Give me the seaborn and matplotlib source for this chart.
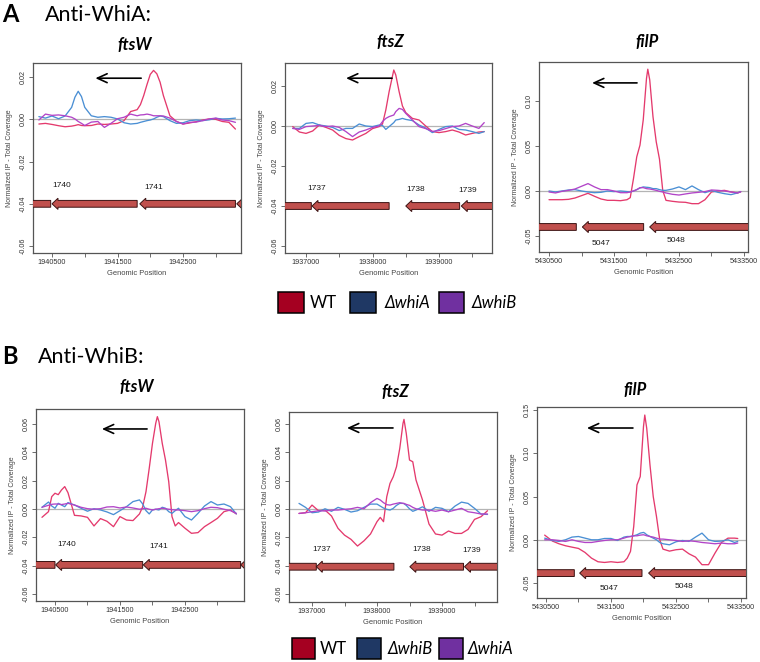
import numpy as np
import pandas as pd
import matplotlib
matplotlib.use("Agg")
import matplotlib.pyplot as plt
from matplotlib.patches import Polygon, Rectangle
import seaborn as sns

# ChIP-seq style coverage traces (Normalized IP - Total Coverage)

# ---------------- Anti-WhiA row ----------------
strains_a = ["WT", "ΔwhiA", "ΔwhiB"]

ftsw_a_pos = [1940300, 1940400, 1940500, 1940600, 1940700, 1940800, 1940850, 1940900, 1940950,
              1941000, 1941100, 1941200, 1941300, 1941400, 1941500, 1941600, 1941700, 1941800,
              1941850, 1941900, 1941950, 1942000, 1942050, 1942100, 1942150, 1942200, 1942300,
              1942400, 1942500, 1942600, 1942700, 1942800, 1942900, 1943000, 1943100, 1943200, 1943300]
ftsw_a_wt = [-0.0022, -0.0019, -0.0024, -0.0030, -0.0035, -0.0032, -0.0029, -0.0025, -0.0029, -0.0030,
             -0.0029, -0.0022, -0.0024, -0.0022, -0.0019, -0.0006, 0.0037, 0.0046, 0.0070, 0.0113,
             0.0165, 0.0213, 0.0232, 0.0216, 0.0176, 0.0113, 0.0017, -0.0010, -0.0022, -0.0017,
             -0.0011, -0.0003, 0.0002, 0.0000, -0.0010, -0.0014, -0.0046]
ftsw_a_whiA = [0.0013, 0.0006, 0.0016, 0.0003, 0.0016, 0.0057, 0.0105, 0.0133, 0.0108, 0.0057,
               0.0017, 0.0010, 0.0013, 0.0010, 0.0002, -0.0016, -0.0022, -0.0019, -0.0014, -0.0010,
               -0.0006, -0.0003, 0.0002, 0.0010, 0.0016, 0.0013, -0.0006, -0.0019, -0.0016, -0.0006,
               -0.0003, -0.0006, -0.0002, 0.0005, 0.0002, 0.0003, 0.0006]
ftsw_a_whiB = [-0.0003, 0.0025, 0.0019, 0.0021, 0.0017, 0.0010, 0.0002, -0.0010, -0.0019, -0.0029,
               -0.0013, -0.0010, -0.0038, -0.0019, 0.0003, 0.0010, 0.0025, 0.0017, 0.0021, 0.0022,
               0.0025, 0.0022, 0.0017, 0.0017, 0.0017, 0.0016, 0.0006, -0.0010, -0.0022, -0.0014,
               -0.0013, -0.0006, 0.0002, 0.0006, -0.0003, -0.0006, -0.0014]

ftsz_a_pos = [1936800, 1936900, 1937000, 1937100, 1937200, 1937300, 1937400, 1937500, 1937600,
              1937700, 1937800, 1937900, 1938000, 1938100, 1938150, 1938200, 1938250, 1938320,
              1938350, 1938400, 1938450, 1938500, 1938600, 1938700, 1938800, 1938900, 1939000,
              1939100, 1939200, 1939300, 1939400, 1939500, 1939600, 1939680]
ftsz_a_wt = [-0.0003, -0.0030, -0.0037, -0.0025, 0.0005, -0.0007, -0.0020, -0.0047, -0.0063, -0.0070,
             -0.0053, -0.0037, -0.0013, -0.0003, 0.0010, 0.0080, 0.0172, 0.0280, 0.0255, 0.0172,
             0.0100, 0.0067, 0.0038, 0.0030, 0.0000, -0.0028, -0.0033, -0.0028, -0.0020, -0.0030,
             -0.0045, -0.0037, -0.0030, -0.0028]
ftsz_a_whiA = [-0.0012, -0.0012, 0.0013, 0.0017, 0.0005, 0.0000, -0.0007, -0.0023, -0.0012, -0.0012,
               0.0010, 0.0000, -0.0003, 0.0005, 0.0003, -0.0017, -0.0003, 0.0017, 0.0030, 0.0033,
               0.0038, 0.0033, 0.0027, 0.0005, -0.0010, -0.0033, -0.0017, -0.0003, 0.0000, -0.0017,
               -0.0020, -0.0028, -0.0037, -0.0028]
ftsz_a_whiB = [-0.0012, -0.0017, -0.0003, 0.0000, 0.0003, -0.0003, 0.0000, -0.0007, -0.0028, -0.0053,
               -0.0030, -0.0020, -0.0007, 0.0000, 0.0022, 0.0038, 0.0047, 0.0055, 0.0072, 0.0088,
               0.0083, 0.0063, 0.0030, -0.0003, -0.0013, -0.0027, -0.0023, -0.0013, -0.0003, 0.0000,
               0.0013, 0.0000, -0.0012, 0.0017]

filp_a_pos = [5430500, 5430600, 5430700, 5430800, 5430900, 5431000, 5431100, 5431200, 5431300,
              5431400, 5431500, 5431600, 5431700, 5431750, 5431800, 5431850, 5431900, 5431950,
              5432000, 5432020, 5432050, 5432100, 5432150, 5432200, 5432250, 5432300, 5432400,
              5432500, 5432600, 5432700, 5432800, 5432900, 5433000, 5433100, 5433200, 5433300,
              5433400, 5433450]
filp_a_wt = [-0.0097, -0.0097, -0.0097, -0.0093, -0.0078, -0.0052, -0.0026, -0.0059, -0.0089, -0.0104,
             -0.0104, -0.0108, -0.0097, -0.0074, 0.0138, 0.0379, 0.0510, 0.0790, 0.1250, 0.1353,
             0.1234, 0.0825, 0.0546, 0.0353, 0.0007, -0.0104, -0.0115, -0.0123, -0.0126, -0.0141,
             -0.0141, -0.0097, -0.0011, 0.0000, 0.0007, -0.0011, -0.0022, -0.0011]
filp_a_whiA = [0.0000, -0.0011, 0.0000, 0.0011, 0.0015, 0.0000, -0.0011, -0.0019, -0.0015, 0.0000,
               -0.0007, 0.0000, -0.0007, -0.0011, 0.0000, 0.0015, 0.0033, 0.0045, 0.0041, 0.0040,
               0.0037, 0.0026, 0.0026, 0.0015, 0.0007, 0.0007, 0.0022, 0.0045, 0.0015, 0.0056,
               0.0015, -0.0019, 0.0004, -0.0015, -0.0030, -0.0041, -0.0022, -0.0007]
filp_a_whiB = [-0.0011, -0.0022, -0.0004, 0.0007, 0.0022, 0.0052, 0.0082, 0.0045, 0.0015, 0.0015,
               0.0000, -0.0019, -0.0019, -0.0011, 0.0000, 0.0015, 0.0037, 0.0037, 0.0026, 0.0024,
               0.0022, 0.0015, 0.0007, -0.0004, -0.0011, -0.0022, -0.0037, -0.0045, -0.0033, -0.0022,
               -0.0015, -0.0007, 0.0011, 0.0007, 0.0000, -0.0011, -0.0022, -0.0007]

# ---------------- Anti-WhiB row ----------------
strains_b = ["WT", "ΔwhiB", "ΔwhiA"]

ftsw_b_pos = [1940300, 1940400, 1940450, 1940500, 1940550, 1940600, 1940650, 1940700, 1940800,
              1940900, 1941000, 1941100, 1941200, 1941300, 1941400, 1941500, 1941600, 1941700,
              1941800, 1941850, 1941900, 1941950, 1942000, 1942050, 1942075, 1942100, 1942150,
              1942200, 1942250, 1942300, 1942350, 1942400, 1942500, 1942600, 1942700, 1942800,
              1942900, 1943000, 1943100, 1943200, 1943290]
ftsw_b_wt = [-0.0059, -0.0019, 0.0087, 0.0111, 0.0101, 0.0134, 0.0158, 0.0115, -0.0045, -0.0049,
             -0.0059, -0.0120, -0.0068, -0.0087, -0.0125, -0.0054, -0.0078, -0.0082, -0.0035, 0.0016,
             0.0122, 0.0287, 0.0464, 0.0605, 0.0652, 0.0616, 0.0464, 0.0346, 0.0193, -0.0054,
             -0.0120, -0.0096, -0.0136, -0.0172, -0.0167, -0.0125, -0.0096, -0.0066, -0.0019, -0.0007,
             -0.0035]
ftsw_b_whiB = [0.0012, 0.0049, 0.0021, 0.0005, 0.0040, 0.0028, 0.0016, 0.0045, 0.0028, 0.0005,
               -0.0016, 0.0002, -0.0007, -0.0021, -0.0040, -0.0012, 0.0016, 0.0052, 0.0064, 0.0035,
               -0.0012, -0.0035, -0.0007, -0.0002, -0.0005, -0.0007, 0.0012, 0.0005, -0.0019, -0.0031,
               -0.0012, 0.0005, -0.0054, -0.0078, -0.0031, 0.0021, 0.0052, 0.0028, 0.0035, 0.0016,
               -0.0035]
ftsw_b_whiA = [0.0012, 0.0026, 0.0033, 0.0035, 0.0035, 0.0031, 0.0035, 0.0040, 0.0028, 0.0012,
               0.0002, -0.0002, 0.0002, 0.0014, 0.0016, 0.0007, 0.0014, 0.0007, -0.0002, 0.0002,
               0.0005, -0.0002, -0.0007, -0.0002, 0.0000, 0.0002, 0.0005, 0.0002, -0.0002, -0.0005,
               -0.0007, -0.0007, -0.0012, -0.0019, -0.0012, 0.0002, 0.0012, 0.0009, -0.0002, -0.0012,
               -0.0031]

ftsz_b_pos = [1936800, 1936900, 1937000, 1937100, 1937200, 1937300, 1937400, 1937500, 1937600,
              1937700, 1937800, 1937900, 1938000, 1938050, 1938100, 1938150, 1938200, 1938250,
              1938300, 1938350, 1938400, 1938415, 1938450, 1938500, 1938550, 1938600, 1938700,
              1938800, 1938900, 1939000, 1939100, 1939200, 1939300, 1939400, 1939500, 1939600, 1939700]
ftsz_b_wt = [-0.0031, -0.0026, 0.0028, -0.0012, -0.0007, -0.0049, -0.0136, -0.0184, -0.0214, -0.0261,
             -0.0224, -0.0176, -0.0089, -0.0059, -0.0089, 0.0087, 0.0181, 0.0228, 0.0299, 0.0428,
             0.0605, 0.0633, 0.0534, 0.0346, 0.0334, 0.0205, 0.0064, -0.0106, -0.0176, -0.0184,
             -0.0155, -0.0172, -0.0172, -0.0144, -0.0073, -0.0054, -0.0012]
ftsz_b_whiB = [0.0040, 0.0012, -0.0026, -0.0021, 0.0002, -0.0016, 0.0012, -0.0002, -0.0021, -0.0012,
               0.0012, 0.0035, 0.0035, 0.0021, 0.0007, -0.0002, -0.0007, 0.0005, 0.0026, 0.0040,
               0.0040, 0.0038, 0.0026, 0.0002, -0.0016, -0.0007, 0.0016, -0.0016, 0.0012, 0.0005,
               -0.0019, 0.0021, 0.0049, 0.0040, 0.0005, -0.0035, -0.0038]
ftsz_b_whiA = [-0.0031, -0.0026, -0.0019, -0.0012, -0.0014, -0.0007, -0.0007, -0.0002, 0.0002, 0.0012,
               0.0002, 0.0045, 0.0075, 0.0064, 0.0045, 0.0031, 0.0028, 0.0035, 0.0040, 0.0045,
               0.0040, 0.0040, 0.0033, 0.0026, 0.0012, 0.0002, -0.0007, -0.0007, -0.0016, -0.0007,
               -0.0019, -0.0007, 0.0005, -0.0019, -0.0026, -0.0035, -0.0035]

filp_b_pos = [5430480, 5430600, 5430700, 5430800, 5430900, 5431000, 5431100, 5431200, 5431300,
              5431400, 5431500, 5431600, 5431700, 5431750, 5431800, 5431850, 5431900, 5431950,
              5432000, 5432020, 5432050, 5432100, 5432150, 5432200, 5432250, 5432300, 5432400,
              5432500, 5432600, 5432700, 5432800, 5432900, 5433000, 5433100, 5433200, 5433300,
              5433400, 5433450]
filp_b_wt = [0.0054, -0.0015, -0.0046, -0.0069, -0.0085, -0.0100, -0.0146, -0.0212, -0.0254, -0.0262,
             -0.0254, -0.0262, -0.0254, -0.0212, -0.0135, 0.0154, 0.0635, 0.0731, 0.1308, 0.1442,
             0.1288, 0.0865, 0.0500, 0.0269, 0.0000, -0.0108, -0.0131, -0.0115, -0.0108, -0.0162,
             -0.0200, -0.0288, -0.0288, -0.0154, -0.0031, 0.0019, 0.0019, 0.0015]
filp_b_whiB = [0.0019, -0.0008, -0.0019, 0.0000, 0.0031, 0.0038, 0.0019, 0.0000, 0.0000, 0.0015,
               0.0015, -0.0008, 0.0031, 0.0038, 0.0038, 0.0046, 0.0058, 0.0077, 0.0085, 0.0077,
               0.0058, 0.0038, 0.0019, 0.0000, -0.0031, -0.0046, -0.0058, -0.0023, -0.0008, -0.0019,
               0.0031, 0.0077, 0.0000, -0.0019, -0.0015, 0.0000, -0.0031, -0.0019]
filp_b_whiA = [0.0000, 0.0000, -0.0008, -0.0019, 0.0000, -0.0019, -0.0031, -0.0031, -0.0019, -0.0008,
               0.0000, 0.0000, 0.0019, 0.0031, 0.0038, 0.0046, 0.0046, 0.0054, 0.0058, 0.0054,
               0.0046, 0.0038, 0.0031, 0.0019, 0.0008, 0.0008, 0.0000, -0.0008, -0.0019, -0.0012,
               -0.0019, -0.0031, -0.0038, -0.0046, -0.0038, -0.0046, -0.0046, -0.0038]

# gene models: (head end, tail end, name); all genes point left
genes_ftsw_a = [(1939500, 1940480, ""), (1940500, 1941800, "1740"), (1941840, 1943300, "1741"), (1943320, 1944500, "")]
genes_ftsz_a = [(1936000, 1937080, ""), (1937090, 1938250, "1737"), (1938500, 1939310, "1738"), (1939335, 1940500, "1739")]
genes_filp_a = [(5429000, 5430920, ""), (5431013, 5431956, "5047"), (5432049, 5434000, "5048")]
genes_ftsw_b = [(1939500, 1940500, ""), (1940510, 1941849, "1740"), (1941859, 1943356, "1741"), (1943356, 1944500, "")]
genes_ftsz_b = [(1936000, 1937066, ""), (1937066, 1938260, "1737"), (1938505, 1939331, "1738"), (1939346, 1940500, "1739")]
genes_filp_b = [(5429000, 5430936, ""), (5431018, 5431977, "5047"), (5432079, 5434000, "5048")]

# gene name label anchors (genomic position, y)
labels_ftsw_a = {"1740": (1940652, -0.0314), "1741": (1942048, -0.0324)}
labels_ftsz_a = {"1737": (1937160, -0.0310), "1738": (1938645, -0.0317), "1739": (1939435, -0.0323)}
labels_filp_a = {"5047": (5431305, -0.0580), "5048": (5432459, -0.0550)}
labels_ftsw_b = {"1740": (1940680, -0.0254), "1741": (1942090, -0.0266)}
labels_ftsz_b = {"1737": (1937153, -0.0285), "1738": (1938683, -0.0285), "1739": (1939463, -0.0294)}
labels_filp_b = {"5047": (5431464, -0.0558), "5048": (5432628, -0.0538)}

legend_colors = ["#a50021", "#1f3864", "#7030a0"]
trace_colors = ["#e43a6d", "#4a8fd4", "#b244c8"]

FIG_W, FIG_H = 760, 662


def fx(px):
    return px / FIG_W


def fy(py):
    return 1 - py / FIG_H


def draw_gene(ax, head, tail, yc, color="#c0504d"):
    """Left-pointing gene arrow, sized in pixels so every panel looks alike"""
    x0, x1 = ax.get_xlim()
    y0, y1 = ax.get_ylim()
    bb = ax.get_position()
    bp_per_px = (x1 - x0) / (bb.width * FIG_W)
    y_per_px = (y1 - y0) / (bb.height * FIG_H)
    hl = 6 * bp_per_px
    bh = 3.4 * y_per_px
    hh = 5.6 * y_per_px
    pts = [(head, yc), (head + hl, yc + hh), (head + hl, yc + bh), (tail, yc + bh),
           (tail, yc - bh), (head + hl, yc - bh), (head + hl, yc - hh)]
    ax.add_patch(Polygon(pts, closed=True, facecolor=color, edgecolor="#3a1212",
                         lw=0.7, clip_on=True, zorder=3))


panels = [
    dict(pos=ftsw_a_pos, vals=[ftsw_a_wt, ftsw_a_whiA, ftsw_a_whiB], strains=strains_a, title="ftsW",
         box=(33, 63, 241, 253), xlim=(1940210, 1943385), ylim=(-0.0633, 0.0267),
         yticks=[-0.06, -0.04, -0.02, 0.0, 0.02], xmaj=[1940500, 1941500, 1942500],
         xmin=[1941000, 1942000, 1943000], genes=genes_ftsw_a, labels=labels_ftsw_a, gy=-0.040,
         tpos=(135, 45), arrow=(0.52, 0.30, 0.92)),
    dict(pos=ftsz_a_pos, vals=[ftsz_a_wt, ftsz_a_whiA, ftsz_a_whiB], strains=strains_a, title="ftsZ",
         box=(285, 63, 492, 253), xlim=(1936684, 1939797), ylim=(-0.0635, 0.0315),
         yticks=[-0.06, -0.04, -0.02, 0.0, 0.02], xmaj=[1937000, 1938000, 1939000],
         xmin=[1937500, 1938500, 1939500], genes=genes_ftsz_a, labels=labels_ftsz_a, gy=-0.040,
         tpos=(390, 42), arrow=(0.517, 0.295, 0.92)),
    dict(pos=filp_a_pos, vals=[filp_a_wt, filp_a_whiA, filp_a_whiB], strains=strains_a, title="filP",
         box=(539, 62, 748, 252), xlim=(5430346, 5433562), ylim=(-0.0678, 0.1433),
         yticks=[-0.05, 0.0, 0.05, 0.10], xmaj=[5430500, 5431500, 5432500, 5433500],
         xmin=[5431000, 5432000, 5433000], genes=genes_filp_a, labels=labels_filp_a, gy=-0.040,
         tpos=(647, 42), arrow=(0.469, 0.254, 0.89)),
    dict(pos=ftsw_b_pos, vals=[ftsw_b_wt, ftsw_b_whiB, ftsw_b_whiA], strains=strains_b, title="ftsW",
         box=(36, 409, 244, 601), xlim=(1940208, 1943408), ylim=(-0.065, 0.0706),
         yticks=[-0.06, -0.04, -0.02, 0.0, 0.02, 0.04, 0.06], xmaj=[1940500, 1941500, 1942500],
         xmin=[1941000, 1942000, 1943000], genes=genes_ftsw_b, labels=labels_ftsw_b, gy=-0.0395,
         tpos=(137, 387), arrow=(0.534, 0.317, 0.896)),
    dict(pos=ftsz_b_pos, vals=[ftsz_b_wt, ftsz_b_whiB, ftsz_b_whiA], strains=strains_b, title="ftsZ",
         box=(289, 412, 497, 602), xlim=(1936646, 1939846), ylim=(-0.0656, 0.0685),
         yticks=[-0.06, -0.04, -0.02, 0.0, 0.02, 0.04, 0.06], xmaj=[1937000, 1938000, 1939000],
         xmin=[1937500, 1938500, 1939500], genes=genes_ftsz_b, labels=labels_ftsz_b, gy=-0.0407,
         tpos=(395, 392), arrow=(0.50, 0.279, 0.916)),
    dict(pos=filp_b_pos, vals=[filp_b_wt, filp_b_whiB, filp_b_whiA], strains=strains_b, title="filP",
         box=(537, 407, 746, 598), xlim=(5430362, 5433577), ylim=(-0.0673, 0.1535),
         yticks=[-0.05, 0.0, 0.05, 0.10, 0.15], xmaj=[5430500, 5431500, 5432500, 5433500],
         xmin=[5431000, 5432000, 5433000], genes=genes_filp_b, labels=labels_filp_b, gy=-0.0385,
         tpos=(635, 390), arrow=(0.459, 0.239, 0.89)),
]

sns.set_style("white")
plt.rcParams["font.family"] = ["Liberation Sans", "DejaVu Sans"]
plt.rcParams["text.color"] = "black"
calibri_like = ["Lato", "DejaVu Sans"]

fig = plt.figure(figsize=(FIG_W / 100, FIG_H / 100), dpi=100)

for p in panels:
    left, top, right, bottom = p["box"]
    ax = fig.add_axes([fx(left), fy(bottom), (right - left) / FIG_W, (bottom - top) / FIG_H])

    # long-format table for seaborn
    frames = []
    for strain, vals in zip(p["strains"], p["vals"]):
        frames.append(pd.DataFrame({"pos": p["pos"], "signal": vals, "strain": strain}))
    df = pd.concat(frames, ignore_index=True)

    ax.axhline(0, color="#b4b4b4", lw=0.9, zorder=1)
    sns.lineplot(data=df, x="pos", y="signal", hue="strain", hue_order=p["strains"],
                 palette=dict(zip(p["strains"], trace_colors)), estimator=None, sort=False,
                 legend=False, lw=0.95, ax=ax, zorder=2)

    ax.set_xlim(*p["xlim"])
    ax.set_ylim(*p["ylim"])

    for head, tail, name in p["genes"]:
        draw_gene(ax, head, tail, p["gy"])
    for name, (lx, ly) in p["labels"].items():
        ax.text(lx, ly, name, ha="center", va="center", fontsize=6, color="#1a1a1a")

    ax.annotate("", xy=(p["arrow"][1], p["arrow"][2]), xytext=(p["arrow"][0], p["arrow"][2]),
                xycoords="axes fraction",
                arrowprops=dict(arrowstyle="->,head_length=0.7,head_width=0.32", lw=1.2,
                                color="black", shrinkA=0, shrinkB=0))

    ax.set_yticks(p["yticks"])
    ax.set_yticklabels([f"{v:.2f}" for v in p["yticks"]], rotation=90, va="center")
    ax.set_xticks(p["xmaj"])
    ax.set_xticklabels([str(v) for v in p["xmaj"]])
    ax.set_xticks(p["xmin"], minor=True)
    ax.tick_params(which="both", direction="out", length=3, width=0.6, color="#555555",
                   labelsize=5.2, labelcolor="#333333", pad=1.5, bottom=True, left=True)
    for s in ax.spines.values():
        s.set_color("#555555")
        s.set_linewidth(0.9)

    ax.set_xlabel("Genomic Position", fontsize=5.4, color="#444444", labelpad=3)
    ax.set_ylabel("Normalized IP - Total Coverage", fontsize=5.0, color="#444444")
    ax.yaxis.set_label_coords(-20 / (right - left), 0.5)

    fig.text(fx(p["tpos"][0]), fy(p["tpos"][1]), p["title"], ha="center", va="center",
             fontsize=12, fontweight="bold", fontstyle="italic", family=calibri_like, color="black")

# panel letters and headers
fig.text(fx(2), fy(14), "A", ha="left", va="center", fontsize=17, fontweight="bold",
         family=calibri_like, color="black")
fig.text(fx(45), fy(15), "Anti-WhiA:", ha="left", va="center", fontsize=15.5,
         family=calibri_like, color="black")
fig.text(fx(2), fy(357), "B", ha="left", va="center", fontsize=17, fontweight="bold",
         family=calibri_like, color="black")
fig.text(fx(38), fy(357), "Anti-WhiB:", ha="left", va="center", fontsize=15.5,
         family=calibri_like, color="black")

# legends drawn as filled squares with names
legend_rows = [
    dict(strains=strains_a, y=(292, 313), boxes=[(278, 304), (350, 376), (439, 464)], tx=[310, 385, 472]),
    dict(strains=strains_b, y=(638, 659), boxes=[(292, 315), (357, 381), (439, 463)], tx=[320, 388, 468]),
]
for row in legend_rows:
    y_top, y_bot = row["y"]
    for strain, color, (bx0, bx1), tx in zip(row["strains"], legend_colors, row["boxes"], row["tx"]):
        fig.add_artist(Rectangle((fx(bx0), fy(y_bot)), (bx1 - bx0) / FIG_W, (y_bot - y_top) / FIG_H,
                                 transform=fig.transFigure, facecolor=color, edgecolor="black", lw=1.1))
        fig.text(fx(tx), fy((y_top + y_bot) / 2), strain, ha="left", va="center", fontsize=12,
                 fontstyle="normal" if strain == "WT" else "italic", family=calibri_like, color="black")

fig.savefig("out.png", dpi=100)
